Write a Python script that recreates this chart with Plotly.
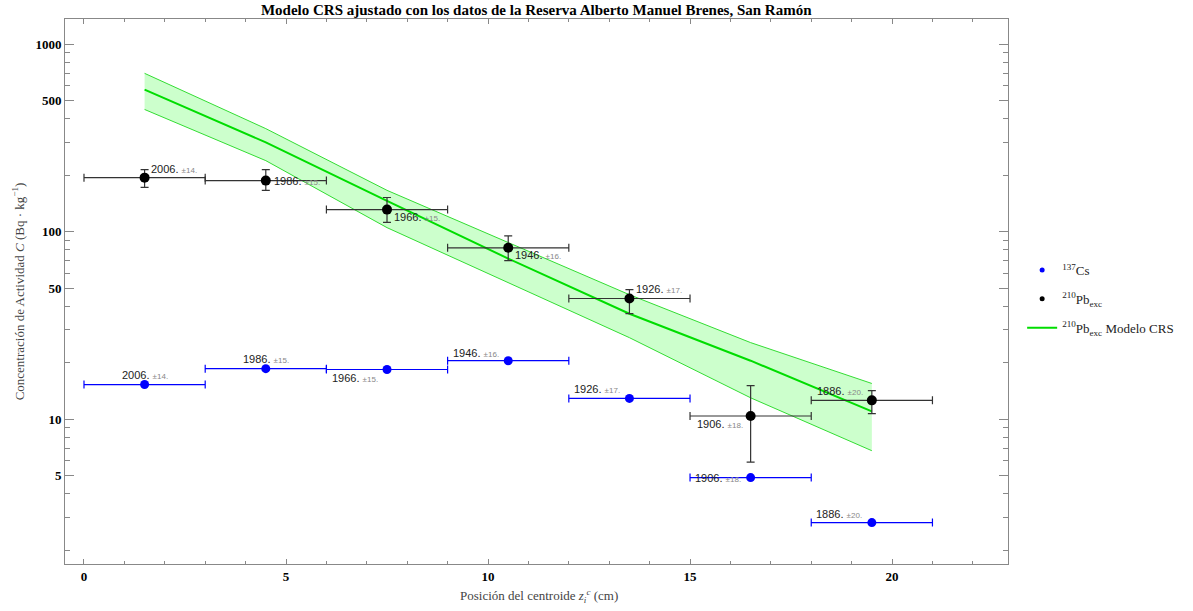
import plotly.graph_objects as go
import numpy as np

# Centroid depth of each slice (cm) and its half-thickness
z = [1.5, 4.5, 7.5, 10.5, 13.5, 16.5, 19.5]
dz = [1.5, 1.5, 1.5, 1.5, 1.5, 1.5, 1.5]

# Dating of each slice (year and uncertainty)
years = [2006, 1986, 1966, 1946, 1926, 1906, 1886]
year_err = [14, 15, 15, 16, 17, 18, 20]

# Excess 210Pb activity (Bq/kg) and its uncertainty
pb = [194, 187, 131, 82, 44, 10.4, 12.6]
pb_err_up = [20, 27, 21, 13, 5, 4.7, 1.6]
pb_err_dn = [22, 21, 19, 12, 7.5, 4.5, 1.9]

# 137Cs activity (Bq/kg)
cs = [15.3, 18.6, 18.4, 20.5, 12.9, 4.88, 2.81]

# CRS model: fitted curve and confidence band
crs_mid = [572, 299, 146, 71.8, 36.5, 20.5, 11.0]
crs_hi = [698, 354, 166, 87.4, 46.1, 25.6, 15.5]
crs_lo = [448, 239, 105, 53.5, 27.2, 13.0, 6.79]

# Callout placement for each label: (xanchor, xshift, yshift)
pb_callout = [("left", 4, 9), ("left", 6, 0), ("left", 5, -7), ("left", 5, -7),
              ("left", 5, 9), ("right", -6, -8), ("right", -7, 9)]
cs_callout = [("center", 0, 10), ("center", 0, 10), ("right", -7, -8), ("right", -7, 8),
              ("right", -7, 9), ("right", -8, 0), ("right", -8, 9)]

BLUE = "#0000ff"
GREEN = "#00dd00"
SERIF = "Liberation Serif"
SANS = "Liberation Sans"

fig = go.Figure()

# Confidence band of the CRS model
fig.add_trace(go.Scatter(x=z, y=crs_hi, mode="lines", line=dict(color="#33dd33", width=1),
                         showlegend=False, hoverinfo="skip"))
fig.add_trace(go.Scatter(x=z, y=crs_lo, mode="lines", line=dict(color="#33dd33", width=1),
                         fill="tonexty", fillcolor="rgba(0,255,0,0.2)",
                         showlegend=False, hoverinfo="skip"))
fig.add_trace(go.Scatter(x=z, y=crs_mid, mode="lines", line=dict(color=GREEN, width=2),
                         showlegend=False))

# 137Cs points
fig.add_trace(go.Scatter(
    x=z, y=cs, mode="markers",
    marker=dict(color=BLUE, size=9),
    error_x=dict(type="data", array=dz, color=BLUE, thickness=1.2, width=4),
    showlegend=False))

# 210Pb excess points
fig.add_trace(go.Scatter(
    x=z, y=pb, mode="markers",
    marker=dict(color="black", size=10),
    error_x=dict(type="data", array=dz, color="#333333", thickness=1.2, width=4),
    error_y=dict(type="data", symmetric=False, array=pb_err_up, arrayminus=pb_err_dn,
                 color="#333333", thickness=1.2, width=4),
    showlegend=False))

# Legend entries
fig.add_trace(go.Scatter(x=[None], y=[None], mode="markers", marker=dict(color=BLUE, size=5),
                         name="<sup>137</sup>Cs", legendgroup="a"))
fig.add_trace(go.Scatter(x=[None], y=[None], mode="markers", marker=dict(color="black", size=5),
                         name="<sup>210</sup>Pb<sub>exc</sub>", legendgroup="b"))
fig.add_trace(go.Scatter(x=[None], y=[None], mode="lines", line=dict(color=GREEN, width=2),
                         name="<sup>210</sup>Pb<sub>exc</sub> Modelo CRS", legendgroup="c"))


def label(year, err):
    return (f"{year}. <span style='font-size:8px;color:#888888'>±{err}.</span>")


annotations = []
for xi, yi, yr, er, (anc, xs, ys) in zip(z, pb, years, year_err, pb_callout):
    annotations.append(dict(x=xi, y=np.log10(yi), xref="x", yref="y", text=label(yr, er),
                            showarrow=False, xanchor=anc, yanchor="middle",
                            xshift=xs, yshift=ys, font=dict(family=SANS, size=11, color="#222222")))
for xi, yi, yr, er, (anc, xs, ys) in zip(z, cs, years, year_err, cs_callout):
    annotations.append(dict(x=xi, y=np.log10(yi), xref="x", yref="y", text=label(yr, er),
                            showarrow=False, xanchor=anc, yanchor="middle",
                            xshift=xs, yshift=ys, font=dict(family=SANS, size=11, color="#222222")))

# Axis titles
annotations.append(dict(x=-0.05, y=0.5, xref="paper", yref="paper", textangle=-90,
                        text="Concentración de Actividad <i>C</i> (Bq · kg<sup>−1</sup>)",
                        showarrow=False, xanchor="center", yanchor="middle",
                        font=dict(family=SERIF, size=13, color="#444444")))
annotations.append(dict(x=0.503, y=-0.059, xref="paper", yref="paper",
                        text="Posición del centroide <i>z</i><sub><i>i</i></sub><sup><i>c</i></sup> (cm)",
                        showarrow=False, xanchor="center", yanchor="middle",
                        font=dict(family=SERIF, size=13, color="#444444")))

y_major = [5, 10, 50, 100, 500, 1000]
y_minor = [m * d for d in (1, 10, 100, 1000) for m in (2, 3, 4, 6, 7, 8, 9)]
y_minor = [v for v in y_minor if 1.69 < v < 1360]

fig.update_layout(
    width=1193, height=611,
    margin=dict(l=65, r=185, t=19, b=47),
    paper_bgcolor="white", plot_bgcolor="white",
    title=dict(text="<b>Modelo CRS ajustado con los datos de la Reserva Alberto Manuel Brenes, San Ramón</b>",
               x=0.4495, xanchor="center", y=0.984, yanchor="middle",
               font=dict(family=SERIF, size=15, color="black")),
    xaxis=dict(range=[-0.47, 22.87], showgrid=False, zeroline=False,
               showline=True, linecolor="#888888", linewidth=1, mirror="ticks",
               ticks="inside", ticklen=5, tickcolor="#888888", dtick=5, tick0=0,
               tickfont=dict(family=SERIF, size=13, color="black", weight="bold"),
               minor=dict(ticks="inside", ticklen=3, tickcolor="#888888", dtick=1, showgrid=False)),
    yaxis=dict(type="log", range=[np.log10(1.69), np.log10(1360)], showgrid=False, zeroline=False,
               showline=True, linecolor="#888888", linewidth=1, mirror="ticks",
               ticks="inside", ticklen=9, tickcolor="#888888",
               tickvals=y_major, ticktext=[str(v) for v in y_major],
               tickfont=dict(family=SERIF, size=13, color="black", weight="bold"),
               minor=dict(ticks="inside", ticklen=5, tickcolor="#888888", tickvals=y_minor, showgrid=False)),
    legend=dict(x=1.015, y=0.567, xanchor="left", yanchor="top", bgcolor="rgba(0,0,0,0)",
                font=dict(family=SERIF, size=13, color="#222222"), itemwidth=30,
                traceorder="grouped", tracegroupgap=9),
    annotations=annotations,
    showlegend=True,
)

fig.write_html("out.html")
